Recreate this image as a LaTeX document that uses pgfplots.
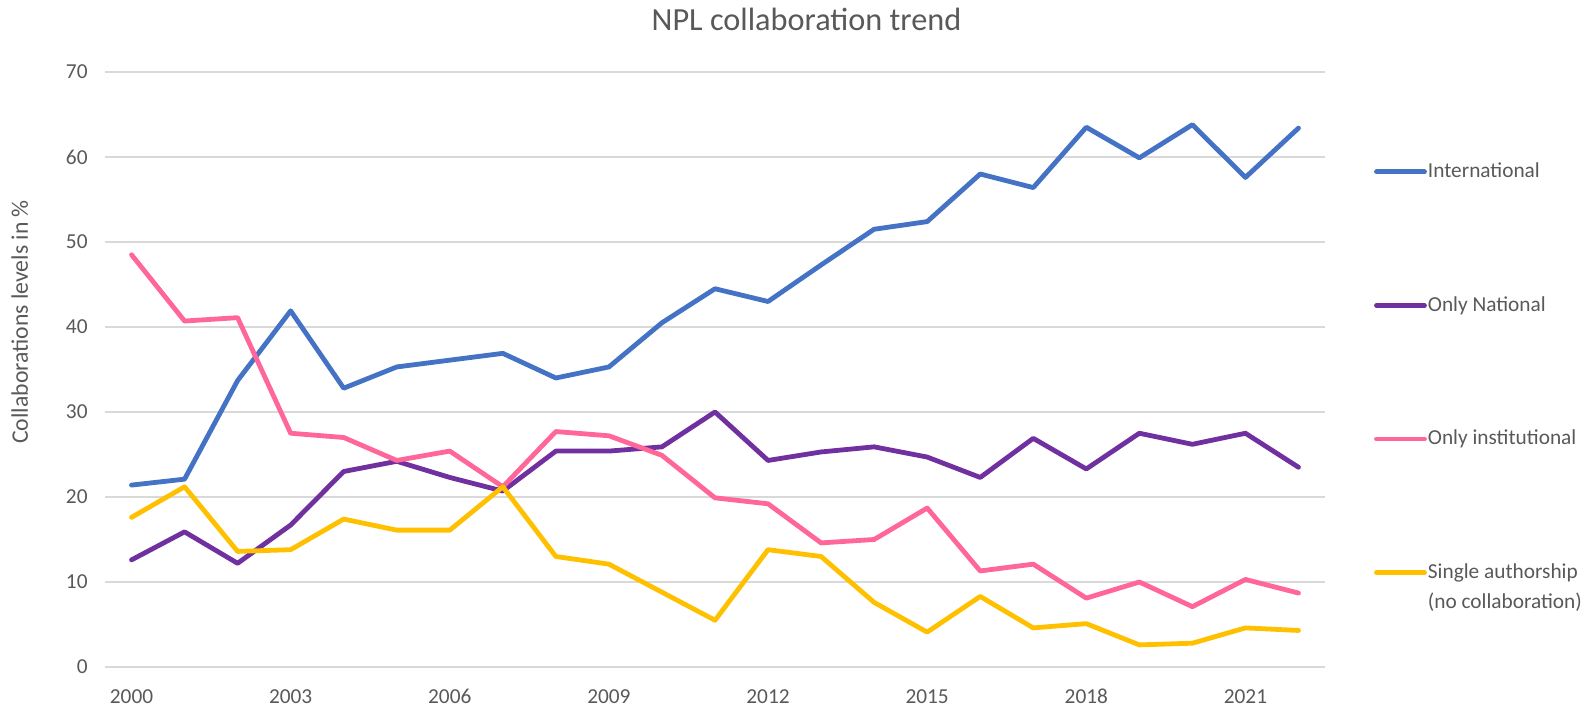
\documentclass[border=0pt]{standalone}
\usepackage{fontspec}
\setmainfont{Carlito}
\usepackage{pgfplots}
\pgfplotsset{compat=1.18}
\definecolor{txt}{HTML}{595959}
\definecolor{gridc}{HTML}{D9D9D9}
\definecolor{cIntl}{HTML}{4472C4}
\definecolor{cNat}{HTML}{7030A0}
\definecolor{cInst}{HTML}{FF6699}
\definecolor{cSingle}{HTML}{FFC000}

\begin{document}
\begin{tikzpicture}
\useasboundingbox (-52.5bp,-19bp) rectangle (740bp,333.5bp);
\begin{axis}[
    scale only axis,
    width=610bp, height=297.5bp,
    xmin=1999.5, xmax=2022.5,
    ymin=0, ymax=70,
    xtick={2000,2003,...,2021},
    ytick={0,10,...,70},
    axis line style={draw=none},
    ymajorgrids,
    grid style={gridc, line width=0.9bp},
    major tick length=0pt,
    tick label style={font=\fontsize{10.7}{12}\selectfont, text=txt},
    /pgf/number format/1000 sep={},
    /pgf/number format/assume math mode=true,
    xticklabel style={inner sep=0pt, anchor=base, yshift=-18bp},
    yticklabel style={inner sep=0pt, anchor=east, xshift=-8.5bp},
    ylabel={Collaborations levels in \%},
    ylabel style={at={(axis description cs:-0.0699,0.58)}, anchor=center,
        font=\fontsize{11.9}{14}\selectfont, text=txt},
    title={NPL collaboration trend},
    title style={at={(axis description cs:0.575,1)}, anchor=center, yshift=20.4bp,
        font=\fontsize{16.2}{19}\selectfont, text=txt},
    legend cell align=left,
    legend image code/.code={\draw[#1] (0bp,0.2bp) -- (24bp,0.2bp);},
    legend style={
        at={(axis description cs:1.035,0.8554)}, anchor=north west,
        draw=none, fill=none,
        row sep=57bp, column sep=0.5bp,
        nodes={inner sep=0pt, text=txt, font=\fontsize{10.7}{13}\selectfont,
            text height=7.5bp, text depth=2.3bp},
    },
    every axis plot/.append style={line width=2.4bp, line join=round, line cap=round},
]
% International
\addplot[cIntl] coordinates {
    (2000,21.4) (2001,22.1) (2002,33.7) (2003,41.9) (2004,32.8) (2005,35.3)
    (2006,36.1) (2007,36.9) (2008,34.0) (2009,35.3) (2010,40.5) (2011,44.5)
    (2012,43.0) (2013,47.3) (2014,51.5) (2015,52.4) (2016,58.0) (2017,56.4)
    (2018,63.5) (2019,59.9) (2020,63.8) (2021,57.6) (2022,63.4)
};
% Only national
\addplot[cNat] coordinates {
    (2000,12.6) (2001,15.9) (2002,12.2) (2003,16.7) (2004,23.0) (2005,24.2)
    (2006,22.3) (2007,20.7) (2008,25.4) (2009,25.4) (2010,25.9) (2011,30.0)
    (2012,24.3) (2013,25.3) (2014,25.9) (2015,24.7) (2016,22.3) (2017,26.9)
    (2018,23.3) (2019,27.5) (2020,26.2) (2021,27.5) (2022,23.5)
};
% Only institutional
\addplot[cInst] coordinates {
    (2000,48.5) (2001,40.7) (2002,41.1) (2003,27.5) (2004,27.0) (2005,24.3)
    (2006,25.4) (2007,21.2) (2008,27.7) (2009,27.2) (2010,24.9) (2011,19.9)
    (2012,19.2) (2013,14.6) (2014,15.0) (2015,18.7) (2016,11.3) (2017,12.1)
    (2018,8.1) (2019,10.0) (2020,7.1) (2021,10.3) (2022,8.7)
};
% Single authorship
\addplot[cSingle] coordinates {
    (2000,17.6) (2001,21.2) (2002,13.6) (2003,13.8) (2004,17.4) (2005,16.1)
    (2006,16.1) (2007,21.2) (2008,13.0) (2009,12.1) (2010,8.8) (2011,5.5)
    (2012,13.8) (2013,13.0) (2014,7.6) (2015,4.1) (2016,8.3) (2017,4.6)
    (2018,5.1) (2019,2.6) (2020,2.8) (2021,4.6) (2022,4.3)
};
\legend{International, Only National, Only institutional,
    {\vtop{\baselineskip=15.2bp \hbox{Single authorship}\hbox{(no collaboration)}}}}
\end{axis}
\end{tikzpicture}
\end{document}
